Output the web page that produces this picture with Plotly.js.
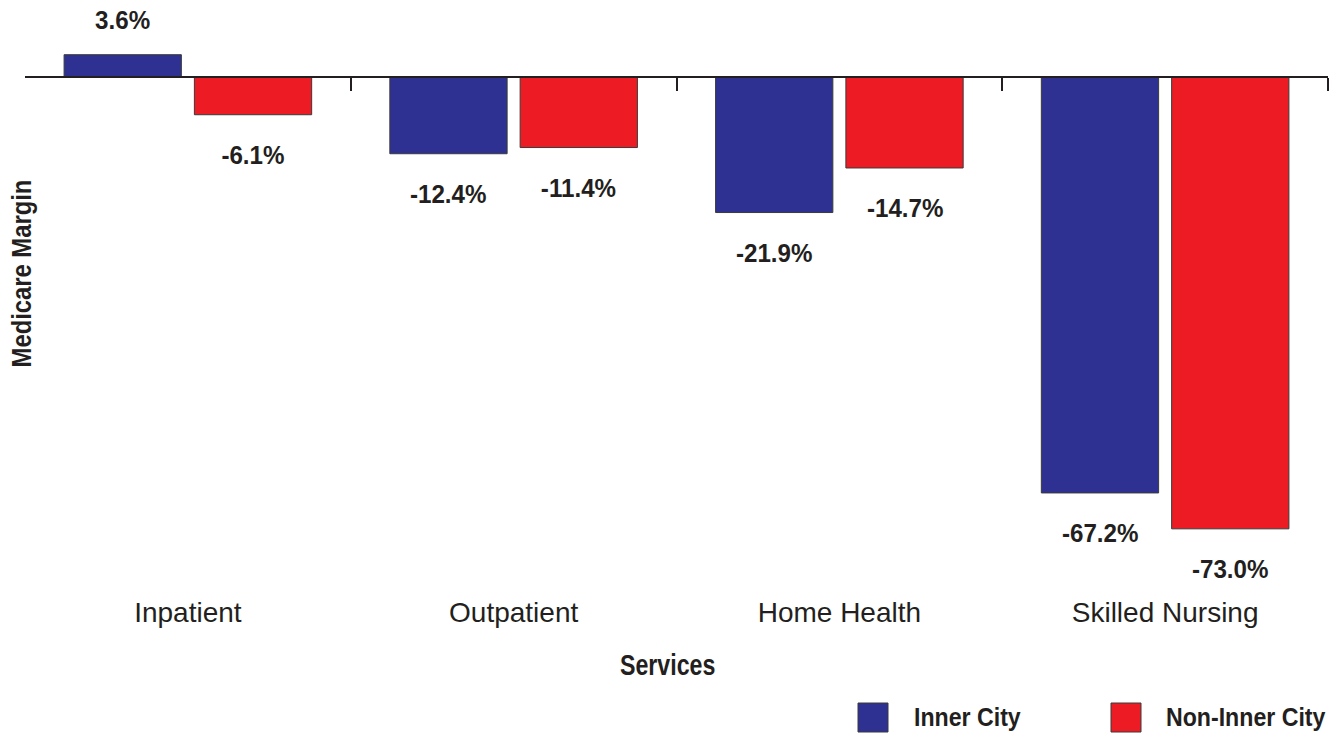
<!DOCTYPE html>
<html>
<head>
<meta charset="utf-8">
<script src="https://cdn.plot.ly/plotly-3.0.1.min.js"></script>
<style>
  html, body { margin: 0; padding: 0; background: #ffffff; }
  #chart { width: 1333px; height: 733px; }
</style>
</head>
<body>
<div id="chart"></div>
<script>
// ---- data ----
const categories = ['Inpatient', 'Outpatient', 'Home Health', 'Skilled Nursing'];
const innerCity = [3.6, -12.4, -21.9, -67.2];
const nonInnerCity = [-6.1, -11.4, -14.7, -73.0];
const seriesNames = ['Inner City', 'Non-Inner City'];
const seriesColors = ['#2e3192', '#ed1c24'];
const xTitle = 'Services';
const yTitle = 'Medicare Margin';

// ---- style ----
const ink = '#231f20';
const boldFont = '"Liberation Sans", Arial, Helvetica, sans-serif';
const regular = '"Liberation Sans", Arial, Helvetica, sans-serif';
const bargap = 0.2;
const yRange = [-82.88, 10.82];
const zeroPos = (0 - yRange[0]) / (yRange[1] - yRange[0]);

const allSeries = [innerCity, nonInnerCity];
const traces = allSeries.map((vals, k) => ({
  type: 'bar',
  name: seriesNames[k],
  x: categories,
  y: vals,
  marker: { color: seriesColors[k], line: { color: '#3a3a3a', width: 1 } },
  showlegend: false,
  hoverinfo: 'x+y'
}));

// invisible trace to carry the overlay axis with ticks at category boundaries
traces.push({
  type: 'scatter', x: [-0.5, 3.5], y: [0, 0], xaxis: 'x2', yaxis: 'y',
  mode: 'lines', line: { width: 0 }, hoverinfo: 'skip', showlegend: false
});

const annotations = [];
const condense = []; // horizontal condensing per annotation (condensed bold look)
const slotOffset = (1 - bargap) / 4;
allSeries.forEach((vals, k) => {
  vals.forEach((v, i) => {
    annotations.push({
      x: i + (k === 0 ? -slotOffset : slotOffset),
      y: v,
      xref: 'x', yref: 'y',
      text: '<b>' + v.toFixed(1) + '%</b>',
      showarrow: false,
      xanchor: 'center', yanchor: 'middle',
      yshift: v >= 0 ? 35 : -40,
      font: { family: boldFont, size: 26, color: ink }
    });
    condense.push([0.93, 'center']);
  });
});

// axis titles
annotations.push({
  xref: 'paper', yref: 'paper', x: (667 - 25) / 1303, y: (590 - 665) / 580,
  text: '<b>' + xTitle + '</b>', showarrow: false, xanchor: 'center', yanchor: 'middle',
  font: { family: boldFont, size: 29, color: ink }
});
condense.push([0.80, 'center']);
annotations.push({
  xref: 'paper', yref: 'paper', x: (21 - 25) / 1303, y: (590 - 274) / 580,
  text: '<b>' + yTitle + '</b>', showarrow: false, textangle: -90,
  xanchor: 'center', yanchor: 'middle',
  font: { family: boldFont, size: 28, color: ink }
});
condense.push([0.85, 'center']);

// custom legend
const legendSquares = [[858, 888], [1111, 1141]];
const legendTextX = [912, 1164];
const shapes = [];
seriesNames.forEach((name, k) => {
  shapes.push({
    type: 'rect', xref: 'paper', yref: 'paper',
    x0: (legendSquares[k][0] - 25) / 1303, x1: (legendSquares[k][1] - 25) / 1303,
    y0: (590 - 732) / 580, y1: (590 - 703) / 580,
    fillcolor: seriesColors[k], line: { color: '#3a3a3a', width: 1 }
  });
  annotations.push({
    xref: 'paper', yref: 'paper',
    x: (legendTextX[k] - 25) / 1303, y: (590 - 717) / 580,
    text: '<b>' + name + '</b>', showarrow: false, xanchor: 'left', yanchor: 'middle',
    font: { family: boldFont, size: 26, color: ink }
  });
  condense.push([0.89, 'left']);
});

const layout = {
  width: 1333, height: 733,
  margin: { l: 25, r: 5, t: 10, b: 143 },
  paper_bgcolor: '#ffffff', plot_bgcolor: '#ffffff',
  barmode: 'group', bargap: bargap, bargroupgap: 0.1,
  showlegend: false,
  xaxis: {
    type: 'category', range: [-0.5, 3.5],
    showline: false, ticks: '', showgrid: false, zeroline: false,
    tickfont: { family: regular, size: 28, color: ink },
    ticklabelstandoff: 3
  },
  xaxis2: {
    overlaying: 'x', anchor: 'free', position: zeroPos, side: 'bottom',
    range: [-0.5, 3.5], showgrid: false, zeroline: false,
    showline: true, linecolor: ink, linewidth: 2.5,
    ticks: 'outside', ticklen: 13, tickwidth: 2, tickcolor: ink,
    tickvals: [0.5, 1.5, 2.5, 3.5], showticklabels: false
  },
  yaxis: {
    range: yRange, showgrid: false, zeroline: false, showline: false,
    ticks: '', showticklabels: false
  },
  annotations: annotations,
  shapes: shapes
};

Plotly.newPlot('chart', traces, layout, { displayModeBar: false, staticPlot: true }).then(gd => {
  const groups = gd.querySelectorAll('.annotation');
  groups.forEach(g => {
    const idx = parseInt(g.getAttribute('data-index'), 10);
    const c = condense[idx];
    if (!c) return;
    const t = g.querySelector('text.annotation-text');
    if (!t) return;
    t.style.transformBox = 'fill-box';
    t.style.transformOrigin = c[1] === 'left' ? 'left center' : 'center';
    t.style.transform = 'scaleX(' + c[0] + ')';
  });
});
</script>
</body>
</html>
